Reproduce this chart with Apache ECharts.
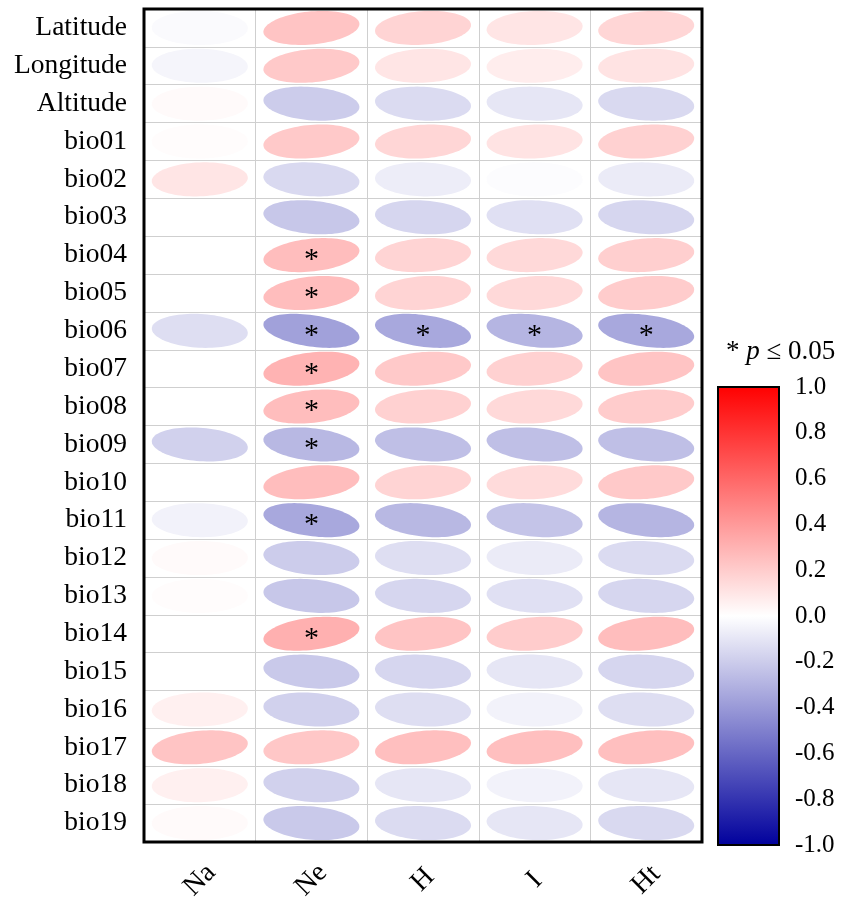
<!DOCTYPE html>
<html>
<head>
<meta charset="utf-8">
<script src="https://cdn.jsdelivr.net/npm/echarts@6/dist/echarts.min.js"></script>
<style>html,body{margin:0;padding:0;background:#fff}#c{width:844px;height:901px}</style>
</head>
<body>
<div id="c"></div>
<script>
// ---- data ----
const columns = ['Na', 'Ne', 'H', 'I', 'Ht'];
const rows = ['Latitude','Longitude','Altitude','bio01','bio02','bio03','bio04','bio05','bio06','bio07','bio08','bio09','bio10','bio11','bio12','bio13','bio14','bio15','bio16','bio17','bio18','bio19'];
// correlation values per column (null = blank cell)
const naValues = [-0.02, -0.04, 0.02, 0.01, 0.10, 0.00, null, null, -0.13, null, null, -0.18, 0.00, -0.05, 0.02, 0.01, null, 0.00, 0.06, 0.23, 0.06, 0.02];
const neValues = [0.23, 0.21, -0.20, 0.21, -0.15, -0.22, 0.26, 0.26, -0.37, 0.30, 0.26, -0.28, 0.26, -0.34, -0.20, -0.22, 0.31, -0.21, -0.18, 0.22, -0.18, -0.21];
const hValues  = [0.17, 0.10, -0.14, 0.16, -0.07, -0.16, 0.17, 0.17, -0.34, 0.21, 0.18, -0.25, 0.17, -0.28, -0.13, -0.16, 0.23, -0.16, -0.13, 0.25, -0.10, -0.14];
const iValues  = [0.10, 0.07, -0.10, 0.11, -0.01, -0.12, 0.15, 0.15, -0.29, 0.18, 0.15, -0.25, 0.14, -0.23, -0.08, -0.12, 0.20, -0.10, -0.05, 0.25, -0.05, -0.10];
const htValues = [0.16, 0.11, -0.15, 0.18, -0.08, -0.16, 0.19, 0.20, -0.34, 0.23, 0.20, -0.25, 0.21, -0.29, -0.14, -0.16, 0.26, -0.16, -0.13, 0.25, -0.10, -0.15];
// significant cells (p <= 0.05)
const sigCells = [['Ne','bio04'],['Ne','bio05'],['Ne','bio06'],['Ne','bio07'],['Ne','bio08'],['Ne','bio09'],['Ne','bio11'],['Ne','bio14'],['H','bio06'],['I','bio06'],['Ht','bio06']];
const colorbarTicks = [-1, -0.8, -0.6, -0.4, -0.2, 0, 0.2, 0.4, 0.6, 0.8, 1];
const colorStops = ['#00009c', '#ffffff', '#ff0000'];

// ---- build ----
const allCols = [naValues, neValues, hValues, iValues, htValues];
const cellData = [];
allCols.forEach((arr, ci) => arr.forEach((v, ri) => { if (v !== null) cellData.push([ci, ri, v]); }));
const sigData = sigCells.map(([c, r]) => [columns.indexOf(c), rows.indexOf(r)]);

const serif = 'Liberation Serif';
const chart = echarts.init(document.getElementById('c'), null, {renderer: 'canvas'});
chart.setOption({
  backgroundColor: '#fff',
  animation: false,
  title: {
    text: '{a|* }{b|p}{a| ≤ 0.05}',
    left: 721, top: 333,
    textStyle: {
      fontWeight: 'normal',
      rich: {
        a: {fontFamily: serif, fontSize: 27, color: '#000', fontWeight: 'normal'},
        b: {fontFamily: serif, fontSize: 27, color: '#000', fontStyle: 'italic', fontWeight: 'normal'}
      }
    }
  },
  grid: [
    {left: 144, top: 9, right: 142, bottom: 59, outerBoundsMode: 'none', containLabel: false,
     show: true, borderColor: '#000', borderWidth: 3, backgroundColor: 'transparent', z: 5},
    {left: 718, top: 387, width: 61, height: 458, outerBoundsMode: 'none', containLabel: false}
  ],
  xAxis: [
    {type: 'category', gridIndex: 0, data: columns, position: 'bottom',
     axisLine: {show: false}, axisTick: {show: false},
     splitLine: {show: true, interval: 0, lineStyle: {color: '#cfcfcf', width: 1}},
     axisLabel: {interval: 0, rotate: 45, margin: 38, align: 'center', verticalAlign: 'middle',
                 fontFamily: serif, fontSize: 28, color: '#000'}},
    {type: 'value', gridIndex: 1, min: 0, max: 1, show: false}
  ],
  yAxis: [
    {type: 'category', gridIndex: 0, data: rows, inverse: true,
     axisLine: {show: false}, axisTick: {show: false},
     splitLine: {show: true, interval: 0, lineStyle: {color: '#cfcfcf', width: 1}},
     axisLabel: {interval: 0, margin: 17, fontFamily: serif, fontSize: 27.5, color: '#000'}},
    {type: 'value', gridIndex: 1, position: 'right', min: -1, max: 1, interval: 0.2,
     axisLine: {show: false},
     axisTick: {show: true, length: 16, inside: false, lineStyle: {color: '#000', width: 2}},
     splitLine: {show: false},
     axisLabel: {margin: 16, fontFamily: serif, fontSize: 25, color: '#000', formatter: v => v.toFixed(1)}}
  ],
  visualMap: {
    show: false, type: 'continuous', min: -1, max: 1, dimension: 2, seriesIndex: 0,
    inRange: {color: colorStops}
  },
  series: [
    {
      type: 'custom', xAxisIndex: 0, yAxisIndex: 0, data: cellData,
      encode: {x: 0, y: 1},
      renderItem(params, api) {
        const v = api.value(2);
        const c = api.coord([api.value(0), api.value(1)]);
        const s = api.size([1, 1]);
        const ax = s[0] * 0.43, ay = s[1] * 0.45;
        const d = Math.acos(Math.max(-0.999, Math.min(0.999, v)));
        const pts = [];
        const n = 90;
        for (let i = 0; i < n; i++) {
          const t = i / n * 2 * Math.PI;
          pts.push([c[0] + ax * Math.cos(t + d / 2), c[1] - ay * Math.cos(t - d / 2)]);
        }
        return {type: 'polygon', shape: {points: pts}, style: {fill: api.visual('color')}};
      }
    },
    {
      type: 'custom', xAxisIndex: 0, yAxisIndex: 0, data: sigData, z: 3,
      encode: {x: 0, y: 1},
      renderItem(params, api) {
        const c = api.coord([api.value(0), api.value(1)]);
        return {type: 'text', x: c[0], y: c[1] + 5,
          style: {text: '*', fontFamily: serif, fontSize: 30, fill: '#000', align: 'center', verticalAlign: 'middle'}};
      }
    },
    {
      type: 'custom', xAxisIndex: 1, yAxisIndex: 1, data: [[0, colorbarTicks[0], colorbarTicks[colorbarTicks.length - 1]]],
      renderItem(params, api) {
        const p1 = api.coord([0, api.value(2)]);
        const p2 = api.coord([1, api.value(1)]);
        return {type: 'rect', shape: {x: p1[0], y: p1[1], width: p2[0] - p1[0], height: p2[1] - p1[1]},
          style: {fill: new echarts.graphic.LinearGradient(0, 0, 0, 1, [
            {offset: 0, color: colorStops[2]}, {offset: 0.5, color: colorStops[1]}, {offset: 1, color: colorStops[0]}]),
            stroke: '#000', lineWidth: 2}};
      }
    }
  ]
});
</script>
</body>
</html>
